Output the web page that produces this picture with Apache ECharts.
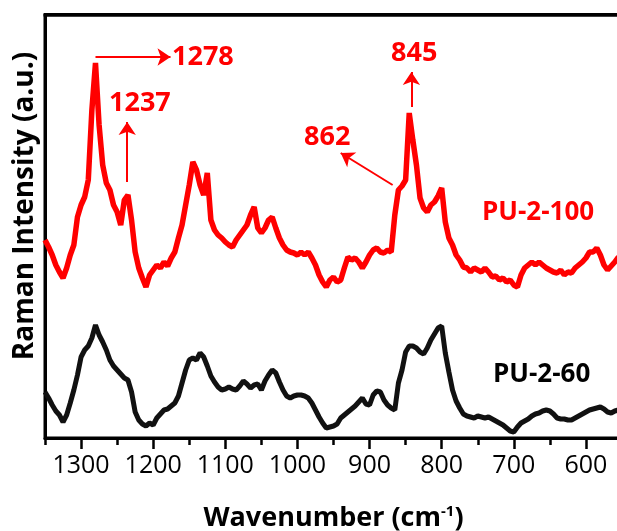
<!DOCTYPE html>
<html>
<head>
<meta charset="utf-8">
<script src="https://cdn.jsdelivr.net/npm/echarts@6/dist/echarts.min.js"></script>
<style>
  html, body { margin: 0; padding: 0; overflow: hidden; background: #fff; }
  #wrap { position: relative; width: 630px; height: 531px; }
  #chart { width: 630px; height: 531px; background: #fff; }
  #topframe { position: absolute; left: 44px; top: 13px; width: 586px; height: 3px; background: #000; pointer-events: none; }
</style>
</head>
<body>
<div id="wrap">
  <div id="chart"></div>
  <div id="topframe"></div>
</div>
<script>
// wavenumber grid (cm-1), every 5 cm-1
const wavenumbers = [
  1350,1345,1340,1335,1330,1325,1320,1315,1310,1305,
  1300,1295,1290,1285,1280,1275,1270,1265,1260,1255,
  1250,1245,1240,1235,1230,1225,1220,1215,1210,1205,
  1200,1195,1190,1185,1180,1175,1170,1165,1160,1155,
  1150,1145,1140,1135,1130,1125,1120,1115,1110,1105,
  1100,1095,1090,1085,1080,1075,1070,1065,1060,1055,
  1050,1045,1040,1035,1030,1025,1020,1015,1010,1005,
  1000,995,990,985,980,975,970,965,960,955,
  950,945,940,935,930,925,920,915,910,905,
  900,895,890,885,880,875,870,865,860,855,
  850,845,840,835,830,825,820,815,810,805,
  800,795,790,785,780,775,770,765,760,755,
  750,745,740,735,730,725,720,715,710,705,
  700,695,690,685,680,675,670,665,660,655,
  650,645,640,635,630,625,620,615,610,605,
  600,595,590,585,580,575,570,565,560,555,
  550
];

// PU-2-100 (red), arbitrary units
const pu2_100 = [
  198,191,183,173,166,160,170,183,193,221,
  233,241,258,328,375,313,273,255,248,233,
  226,213,238,243,218,186,170,160,151,163,
  168,173,170,176,172,180,186,200,213,233,
  253,276,268,253,243,265,218,208,203,200,
  196,193,191,198,203,208,213,223,231,210,
  205,210,218,221,210,200,193,188,186,185,
  183,186,183,186,180,173,163,156,151,158,
  161,156,158,170,181,178,180,176,170,176,
  183,188,190,186,185,188,186,223,248,252,
  258,325,298,273,240,230,226,233,236,242,
  250,216,200,193,183,178,171,170,166,170,
  168,166,170,166,161,162,158,160,156,158,
  153,151,163,170,173,176,173,176,173,170,
  168,166,165,168,163,166,165,170,173,176,
  180,186,186,190,183,173,168,172,176,181,
  178
];

// PU-2-60 (black), arbitrary units
const pu2_60 = [
  46,40,33,27,23,16,23,35,48,63,
  81,88,92,100,113,103,96,88,78,72,
  68,64,60,58,46,26,18,14,12,15,
  13,20,24,28,29,32,35,42,55,68,
  78,80,78,85,81,72,62,56,51,48,
  49,51,49,48,52,57,54,50,53,54,
  48,57,63,68,65,56,48,42,40,42,
  43,43,42,40,35,28,21,15,10,11,
  12,14,20,23,26,29,32,36,40,34,
  33,43,47,46,38,33,30,28,55,68,
  86,92,92,90,86,84,90,98,104,110,
  112,85,66,48,37,30,24,22,21,20,
  22,21,20,21,19,17,15,13,10,7,
  6,11,15,17,19,22,24,25,27,28,
  27,24,20,19,19,18,18,20,22,24,
  26,28,29,30,31,29,26,25,27,28,
  28
];

// peak arrows: [start, end] in data coordinates
const peakArrows = [
  [[1280, 381], [1176, 381]],
  [[1236, 256], [1236, 316]],
  [[868, 253], [940, 285]],
  [[842, 331], [842, 366]]
];

const FONT = '"Open Sans", "Noto Sans", sans-serif';

let chart = echarts.init(document.getElementById('chart'));

function label(text, x, y, color, size) {
  return {
    type: 'text', x: x, y: y,
    style: {
      text: text, font: 'bold ' + size + 'px ' + FONT, fill: color,
      textVerticalAlign: 'middle', verticalAlign: 'middle'
    }
  };
}

let option = {
  animation: false,
  grid: {
    left: 45, top: 15, width: 577, height: 423,
    show: true, borderColor: '#000', borderWidth: 3,
    outerBoundsMode: 'none'
  },
  xAxis: [{
    type: 'value',
    inverse: true,
    min: 550, max: 1350,
    splitNumber: 8, minInterval: 100, maxInterval: 100,
    position: 'bottom',
    axisLine: { show: true, onZero: false, lineStyle: { color: '#000', width: 3 } },
    axisTick: { show: true, inside: false, length: 11, lineStyle: { color: '#000', width: 2.5 } },
    axisLabel: {
      color: '#000', fontSize: 25, fontFamily: FONT, margin: 15,
      showMinLabel: false, showMaxLabel: false,
      formatter: v => String(v)
    },
    splitLine: { show: false },
    name: 'Wavenumber (cm{sup|-1})',
    nameLocation: 'middle',
    nameGap: 66,
    nameTextStyle: {
      color: '#000', fontSize: 27, fontWeight: 'bold', fontFamily: FONT,
      rich: {
        sup: { fontSize: 15, fontWeight: 'bold', fontFamily: FONT, color: '#000', padding: [0, 0, 14, 0] }
      }
    }
  }, {
    // minor ticks every 50
    type: 'value',
    inverse: true,
    min: 550, max: 1350, interval: 50,
    position: 'bottom',
    axisLine: { show: false, onZero: false },
    axisTick: { show: true, inside: false, length: 7, lineStyle: { color: '#000', width: 2.5 } },
    axisLabel: { show: false },
    splitLine: { show: false }
  }],
  yAxis: {
    type: 'value',
    min: 0, max: 423,
    axisLine: { show: true, onZero: false, lineStyle: { color: '#000', width: 3 } },
    axisTick: { show: false },
    axisLabel: { show: false },
    splitLine: { show: false }
  },
  series: [{
    name: 'PU-2-100',
    type: 'line',
    xAxisIndex: 0,
    data: wavenumbers.map((w, i) => [w, pu2_100[i]]),
    showSymbol: false,
    lineStyle: { color: '#ff0000', width: 5.5 },
    markLine: {
      silent: true,
      symbol: ['none', 'arrow'],
      symbolSize: 13,
      label: { show: false },
      lineStyle: { color: '#ff0000', width: 2, type: 'solid' },
      data: peakArrows.map(a => [{ coord: a[0] }, { coord: a[1] }])
    }
  }, {
    name: 'PU-2-60',
    type: 'line',
    xAxisIndex: 0,
    data: wavenumbers.map((w, i) => [w, pu2_60[i]]),
    showSymbol: false,
    lineStyle: { color: '#111', width: 5 }
  }],
  graphic: [
    {
      // top frame line
      type: 'rect',
      shape: { x: 43.5, y: 13.5, width: 590, height: 3 },
      style: { fill: '#000' }
    },
    {
      type: 'text', x: 25, y: 206, rotation: Math.PI / 2,
      style: {
        text: 'Raman Intensity (a.u.)', font: 'bold 28px ' + FONT, fill: '#000',
        textAlign: 'center', align: 'center', textVerticalAlign: 'middle', verticalAlign: 'middle'
      }
    },
    label('1278', 172, 57, '#ff0000', 27),
    label('1237', 109, 103, '#ff0000', 27),
    label('862', 304, 137, '#ff0000', 27),
    label('845', 391, 53, '#ff0000', 27),
    label('PU-2-100', 482, 213, '#ff0000', 26),
    label('PU-2-60', 493, 375, '#000', 26)
  ]
};

chart.setOption(option);
</script>
</body>
</html>
